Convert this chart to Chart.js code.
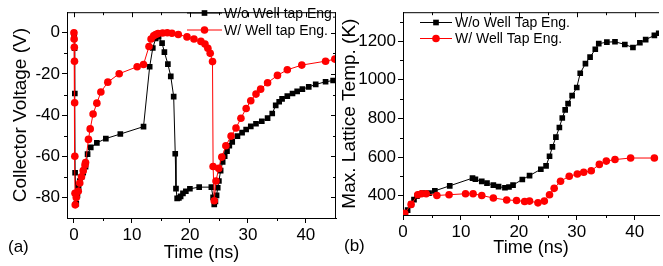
<!DOCTYPE html>
<html>
<head>
<meta charset="utf-8">
<script src="https://cdn.jsdelivr.net/npm/chart.js@4.4.1/dist/chart.umd.min.js"></script>
<style>
  html, body { margin: 0; padding: 0; background: #fff; }
  body { width: 663px; height: 266px; position: relative; overflow: hidden; font-family: "Liberation Sans", Arial, sans-serif; }
  .panel { position: absolute; top: 0; height: 266px; }
  #boxA { left: 0; width: 340px; }
  #boxB { left: 335px; width: 328px; }
  .tag { position: absolute; font-size: 17px; line-height: 20px; color: #000; }
</style>
</head>
<body>
<div class="panel" id="boxA"><canvas id="chartA"></canvas></div>
<div class="panel" id="boxB"><canvas id="chartB"></canvas></div>
<div class="tag" style="left:8px; top:237px;">(a)</div>
<div class="tag" style="left:344px; top:236px;">(b)</div>
<script>
// (a) collector voltage, W/o well tap
const timeA_wo = [
    0, 0.05, 0.1, 0.15, 0.2, 0.4, 0.6, 0.8, 1.0, 1.3,
    1.6, 2.0, 2.35, 2.9, 3.95, 5.5, 8.0, 12.0, 13.06, 13.6,
    14.1, 14.6, 15.2, 15.6, 16.2, 16.7, 17.2, 17.47, 17.6, 17.8,
    18.1, 18.4, 18.8, 19.3, 20.0, 21.6, 23.7, 24.0, 24.2, 24.4,
    24.6, 24.8, 25.0, 25.3, 25.65, 26.0, 26.4, 26.8, 27.3, 28.2,
    29.0, 29.7, 30.5, 31.4, 32.4, 33.4, 34.2, 34.8, 35.4, 35.9,
    36.8, 37.7, 38.5, 39.4, 40.5, 41.7, 43.4, 44.7
];
const voltA_wo = [
    0, -2, -7.5, -29.5, -68, -83, -79, -75, -72, -70,
    -68, -65, -59, -55.7, -53.5, -51.4, -49.2, -45.6, -16.5, -7.4,
    -2.8, -1.9, -5, -9.4, -15.2, -21.2, -31, -58.8, -75.7, -80.5,
    -80.3, -79.5, -78, -77, -75.8, -75, -75, -80, -83.4, -82,
    -79, -75.3, -72, -67, -62.7, -60, -57.5, -54.9, -53, -50.2,
    -48.5, -47, -45.5, -44.2, -43, -41.5, -39.2, -35.3, -33.5, -32.1,
    -30.8, -29.5, -28.5, -27.4, -26.3, -25.1, -23.8, -23.2
];
// (a) collector voltage, W/ well tap
const timeA_w = [
    0, 0.03, 0.06, 0.09, 0.12, 0.15, 0.18, 0.22, 0.4, 0.74,
    1.0, 1.3, 1.6, 1.9, 2.0, 2.5, 2.8, 3.3, 3.95, 4.64,
    5.84, 7.8, 10.9, 12.0, 12.94, 13.3, 13.75, 14.1, 14.5, 15.3,
    16.1, 16.9, 18.0, 19.5, 20.7, 21.9, 22.6, 23.1, 23.5, 23.9,
    24.0, 24.2, 24.5, 24.97, 25.5, 26.2, 27.1, 27.95, 28.8, 29.7,
    30.5, 31.4, 32.2, 33.4, 35.1, 36.8, 39.3, 43.4, 45
];
const voltA_w = [
    0, -3, -7, -13.8, -34, -60, -78, -83.6, -80, -77,
    -73, -70, -67, -64.3, -63, -51.8, -46.7, -39.5, -34.2, -28.8,
    -24, -19.9, -16.5, -15.4, -6.7, -3, -1.5, -0.8, -0.4, -0.1,
    0, -0.2, -0.8, -2, -3, -4.2, -5.5, -7.5, -10, -14,
    -65, -81.6, -72, -65.9, -60.4, -54.9, -50.2, -46.3, -41.5, -36.8,
    -33, -29.8, -27.4, -24.3, -20.7, -18, -15.7, -13.8, -12.8
];

// (b) max lattice temperature
const timeB_wo = [
    0.3, 0.8, 1.4, 1.9, 2.4, 2.9, 3.4, 4.5, 5.5, 8.07,
    12.0, 12.5, 13.6, 14.5, 15.6, 16.5, 17.6, 18.3, 19.0, 20.6,
    21.85, 23.8, 24.7, 25.3, 25.8, 26.4, 27.0, 27.5, 28.0, 28.5,
    29.2, 30.0, 30.6, 31.5, 32.3, 33.2, 33.8, 35.2, 36.6, 38.3,
    39.7, 40.9, 41.9, 43.4, 44.15
];
const tempB_wo = [
    300, 325, 355, 380, 397, 408, 413, 413, 425, 451,
    491, 485, 474, 465, 455, 447, 441, 445, 455, 484,
    504, 537, 554, 604, 653, 703, 753, 802, 844, 877,
    918, 960, 1034, 1084, 1117, 1158, 1187, 1195, 1197, 1183,
    1167, 1192, 1208, 1230, 1241
];
const timeB_w = [
    0.3, 1.4, 2.55, 3.2, 4.0, 5.85, 7.95, 10.8, 12.1, 13.6,
    15.6, 17.9, 19.6, 21.0, 21.85, 23.3, 24.4, 25.3, 26.1, 27.2,
    28.7, 30.1, 31.2, 32.5, 33.9, 35.1, 36.6, 39.3, 43.4
];
const tempB_w = [
    309, 355, 405, 410, 410, 401, 405, 410, 410, 401,
    388, 378, 375, 370, 372, 363, 372, 405, 438, 475,
    501, 512, 521, 529, 562, 579, 587, 595, 595
];

const xTicks = [0, 10, 20, 30, 40];
const xMinor = [5, 15, 25, 35];
const yTicksA = [-80, -60, -40, -20, 0];
const yMinorA = [-70, -50, -30, -10];
const yTicksB = [400, 600, 800, 1000, 1200];
const yMinorB = [500, 700, 900, 1100, 1300];

function pairs(xs, ys) {
    return xs.map((t, i) => ({ x: t, y: ys[i] }));
}

// top border, right border and the little minor / mirrored ticks
const framePlugin = {
    id: 'frame',
    afterDraw(chart, args, opts) {
        const { ctx, chartArea: a, scales: { x, y } } = chart;
        ctx.save();
        ctx.strokeStyle = '#000';
        ctx.lineWidth = 1;
        ctx.beginPath();
        ctx.moveTo(a.left, a.top + 0.5);
        ctx.lineTo(a.right, a.top + 0.5);
        if (opts.right) {
            ctx.moveTo(a.right - 0.5, a.top);
            ctx.lineTo(a.right - 0.5, a.bottom);
        }
        xTicks.concat(xMinor).forEach(v => {
            const px = Math.round(x.getPixelForValue(v)) + 0.5;
            const len = xTicks.includes(v) ? 5 : 3;
            if (!xTicks.includes(v)) {
                ctx.moveTo(px, a.bottom);
                ctx.lineTo(px, a.bottom + len);
            }
            ctx.moveTo(px, a.top);
            ctx.lineTo(px, a.top + len);
        });
        opts.yMajor.concat(opts.yMinor).forEach(v => {
            if (v < y.min || v > y.max) return;
            const py = Math.round(y.getPixelForValue(v)) + 0.5;
            const len = opts.yMajor.includes(v) ? 5 : 3;
            if (!opts.yMajor.includes(v)) {
                ctx.moveTo(a.left, py);
                ctx.lineTo(a.left - len, py);
            }
            if (opts.right) {
                ctx.moveTo(a.right, py);
                ctx.lineTo(a.right - len, py);
            }
        });
        ctx.stroke();
        ctx.restore();
    }
};

const legendPlugin = {
    id: 'inlineLegend',
    afterDatasetsDraw(chart, args, opts) {
        const ctx = chart.ctx;
        ctx.save();
        ctx.font = '14px "Liberation Sans", Arial, sans-serif';
        ctx.textBaseline = 'middle';
        opts.rows.forEach(row => {
            const ds = chart.data.datasets[row.index];
            ctx.strokeStyle = ds.borderColor;
            ctx.lineWidth = 1;
            ctx.beginPath();
            ctx.moveTo(opts.x0, row.y);
            ctx.lineTo(opts.x1, row.y);
            ctx.stroke();
            ctx.fillStyle = ds.borderColor;
            Chart.helpers.drawPoint(ctx, {
                pointStyle: ds.pointStyle, radius: ds.pointRadius, borderWidth: 0
            }, (opts.x0 + opts.x1) / 2, row.y);
            ctx.fillStyle = '#000';
            ctx.fillText(ds.label, opts.textX, row.y + 1);
        });
        ctx.restore();
    }
};

Chart.defaults.font.family = '"Liberation Sans", Arial, sans-serif';
Chart.defaults.color = '#000';

function makeChart(id, cfg) {
    return new Chart(document.getElementById(id), {
        type: 'scatter',
        data: {
            datasets: [{
                label: cfg.labels[0],
                data: cfg.wo,
                showLine: true,
                borderColor: '#000000',
                backgroundColor: '#000000',
                borderWidth: 1,
                pointStyle: 'rect',
                pointRadius: 4,
                pointBorderWidth: 0,
                order: 2
            }, {
                label: cfg.labels[1],
                data: cfg.w,
                showLine: true,
                borderColor: '#ff0000',
                backgroundColor: '#ff0000',
                borderWidth: 1,
                pointStyle: 'circle',
                pointRadius: 3.8,
                pointBorderWidth: 0,
                order: 1
            }]
        },
        options: {
            responsive: true,
            maintainAspectRatio: false,
            animation: false,
            layout: { padding: cfg.padding },
            plugins: {
                legend: { display: false },
                tooltip: { enabled: false },
                frame: { right: cfg.rightBorder, yMajor: cfg.yTicks, yMinor: cfg.yMinor },
                inlineLegend: cfg.legend
            },
            scales: {
                x: {
                    type: 'linear',
                    min: cfg.xMin,
                    max: cfg.xMax,
                    afterBuildTicks: s => { s.ticks = xTicks.map(v => ({ value: v })); },
                    afterFit: s => { s.height = cfg.xHeight; },
                    grid: { drawOnChartArea: false, tickLength: 5, color: '#000' },
                    border: { color: '#000', width: 1 },
                    ticks: { font: { size: 17 }, padding: 2, maxRotation: 0, callback: v => String(v) },
                    title: {
                        display: true, text: 'Time (ns)', font: { size: 18 },
                        padding: { top: 0, bottom: cfg.xTitlePad }
                    }
                },
                y: {
                    type: 'linear',
                    min: cfg.yMin,
                    max: cfg.yMax,
                    afterBuildTicks: s => { s.ticks = cfg.yTicks.map(v => ({ value: v })); },
                    afterFit: s => { s.width = cfg.yWidth; },
                    grid: { drawOnChartArea: false, tickLength: 5, color: '#000' },
                    border: { color: '#000', width: 1 },
                    ticks: { font: { size: 17 }, padding: 2, callback: v => String(v) },
                    title: {
                        display: true, text: cfg.yTitle, font: { size: 19 },
                        padding: { top: cfg.yTitlePad, bottom: 0 }
                    }
                }
            }
        },
        plugins: [framePlugin, legendPlugin]
    });
}

makeChart('chartA', {
    labels: ['W/o Well tap Eng.', 'W/ Well tap Eng.'],
    wo: pairs(timeA_wo, voltA_wo),
    w: pairs(timeA_w, voltA_w),
    xMin: -1.2, xMax: 45.2,
    yMin: -90, yMax: 10,
    yTicks: yTicksA, yMinor: yMinorA,
    yTitle: 'Collector Voltage (V)',
    padding: { left: 0, right: 3, top: 5, bottom: 0 },
    yWidth: 67, xHeight: 48,
    xTitlePad: 2, yTitlePad: 9,
    rightBorder: true,
    legend: { x0: 187, x1: 222, textX: 224, rows: [{ index: 0, y: 13 }, { index: 1, y: 30 }] }
});

makeChart('chartB', {
    labels: ['W/o Well Tap Eng.', 'W/ Well Tap Eng.'],
    wo: pairs(timeB_wo, tempB_wo),
    w: pairs(timeB_w, tempB_w),
    xMin: 0, xMax: 44.2,
    yMin: 300, yMax: 1350,
    yTicks: yTicksB, yMinor: yMinorB,
    yTitle: 'Max. Lattice Temp. (K)',
    padding: { left: 0, right: 0, top: 3, bottom: 0 },
    yWidth: 68, xHeight: 51,
    xTitlePad: 7, yTitlePad: 3,
    rightBorder: false,
    legend: { x0: 85, x1: 117, textX: 120, rows: [{ index: 0, y: 22.5 }, { index: 1, y: 38.5 }] }
});
</script>
</body>
</html>
